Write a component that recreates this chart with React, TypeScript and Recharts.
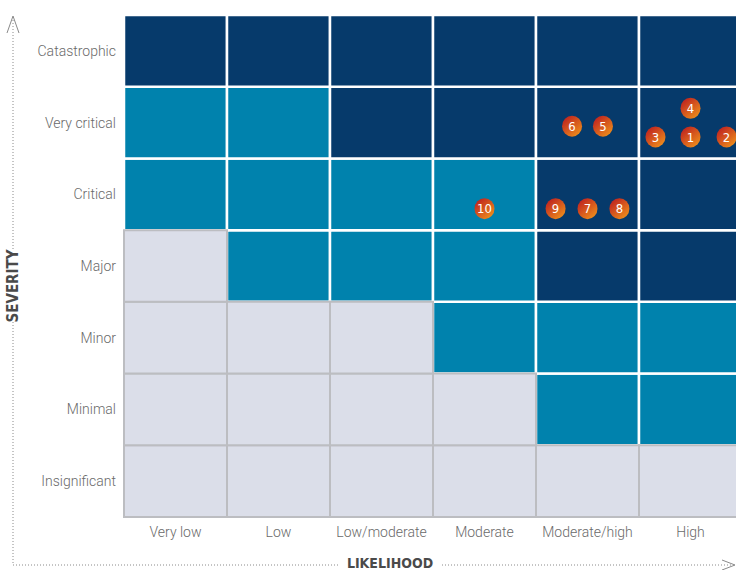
import { ScatterChart, Scatter, XAxis, YAxis, ReferenceArea } from "recharts";

// columns, left to right
const likelihood = ["Very low", "Low", "Low/moderate", "Moderate", "Moderate/high", "High"];
// rows, bottom to top
const severity = ["Insignificant", "Minimal", "Minor", "Major", "Critical", "Very critical", "Catastrophic"];

// zone of each cell, rows bottom to top: L = low, M = medium, H = high
const zones = [
  ["L", "L", "L", "L", "L", "L"],
  ["L", "L", "L", "L", "M", "M"],
  ["L", "L", "L", "M", "M", "M"],
  ["L", "M", "M", "M", "H", "H"],
  ["M", "M", "M", "M", "H", "H"],
  ["M", "M", "H", "H", "H", "H"],
  ["H", "H", "H", "H", "H", "H"],
];

// risks: id, likelihood position, severity position
const riskIds = [1, 2, 3, 4, 5, 6, 7, 8, 9, 10];
const riskLikelihood = [5.5, 5.85, 5.16, 5.5, 4.65, 4.35, 4.5, 4.81, 4.19, 3.5];
const riskSeverity = [5.3, 5.3, 5.3, 5.7, 5.45, 5.45, 4.3, 4.3, 4.3, 4.3];

const zoneFill: Record<string, string> = { L: "#dbdee9", M: "#0082ad", H: "#063a6b" };

const risks = riskIds.map((id, i) => ({ id, x: riskLikelihood[i], y: riskSeverity[i] }));

const cells = zones.flatMap((row, r) => row.map((z, c) => ({ r, c, z })));
// coloured cells first, grey ones on top so their grey borders show
const ordered = [...cells.filter((d) => d.z !== "L"), ...cells.filter((d) => d.z === "L")];

const labelFont = "Roboto, 'Liberation Sans', sans-serif";
const titleFont = "'Liberation Sans Narrow', 'DejaVu Sans Condensed', Roboto, sans-serif";

const RiskDot = (props: any) => {
  const { cx, cy, payload } = props;
  const gid = `riskgrad${payload.id}`;
  return (
    <g>
      <defs>
        <linearGradient id={gid} x1="0.15" y1="0.1" x2="0.85" y2="0.95">
          <stop offset="0%" stopColor="#bf2420" />
          <stop offset="100%" stopColor="#ee8f1b" />
        </linearGradient>
      </defs>
      <ellipse cx={cx} cy={cy} rx={10} ry={10.5} fill={`url(#${gid})`} />
      <text
        x={cx}
        y={cy}
        dy="0.36em"
        textAnchor="middle"
        fill="#fff"
        fontSize={13}
        fontFamily={titleFont}
      >
        {payload.id}
      </text>
    </g>
  );
};

export default function App() {
  return (
    <div style={{ position: "fixed", left: 0, top: 0, width: 736, height: 570, overflow: "hidden", background: "#fff" }}>
      <ScatterChart width={750} height={570} margin={{ top: 15, right: 8, bottom: 0, left: 0 }}>
        <XAxis
          type="number"
          dataKey="x"
          domain={[0, 6]}
          ticks={[0.5, 1.5, 2.5, 3.5, 4.5, 5.5]}
          tickFormatter={(v) => likelihood[Math.floor(v)]}
          axisLine={false}
          tickLine={false}
          tickMargin={4}
          height={53}
          interval={0}
          tick={{ fill: "#6a6a6a", fontSize: 14, fontFamily: labelFont, fontWeight: 300 }}
        />
        <YAxis
          type="number"
          dataKey="y"
          domain={[0, 7]}
          ticks={[0.5, 1.5, 2.5, 3.5, 4.5, 5.5, 6.5]}
          tickFormatter={(v) => severity[Math.floor(v)]}
          axisLine={false}
          tickLine={false}
          width={124}
          interval={0}
          tick={{ fill: "#6a6a6a", fontSize: 14, fontFamily: labelFont, fontWeight: 300 }}
        />
        {ordered.map((d) => (
          <ReferenceArea
            key={`${d.r}-${d.c}`}
            x1={d.c}
            x2={d.c + 1}
            y1={d.r}
            y2={d.r + 1}
            fill={zoneFill[d.z]}
            fillOpacity={1}
            stroke={d.z === "L" ? "#bcbdc1" : "#ffffff"}
            strokeWidth={d.z === "L" ? 2 : 2.5}
          />
        ))}
        <Scatter data={risks} shape={<RiskDot />} isAnimationActive={false} />
      </ScatterChart>
      <svg
        width={736}
        height={570}
        style={{ position: "absolute", left: 0, top: 0, pointerEvents: "none" }}
      >
        <g stroke="#8a8a8a" strokeWidth={1} strokeDasharray="1 2" fill="none">
          <line x1={13} y1={17} x2={13} y2={250} />
          <line x1={13} y1={322} x2={13} y2={565} />
          <line x1={13} y1={565} x2={338} y2={565} />
          <line x1={442} y1={565} x2={733} y2={565} />
        </g>
        <g stroke="#8a8a8a" strokeWidth={1} fill="none">
          <polyline points="7,33 13,16 19,33" />
          <polyline points="722,560 735,565 722,570" />
        </g>
        <text
          x={390}
          y={568}
          textAnchor="middle"
          fill="#4a4a4a"
          fontSize={14}
          fontWeight={700}
          fontFamily={titleFont}
        >
          LIKELIHOOD
        </text>
        <text
          transform="translate(18 286) rotate(-90)"
          textAnchor="middle"
          fill="#4a4a4a"
          fontSize={15}
          fontWeight={700}
          fontFamily={titleFont}
        >
          SEVERITY
        </text>
      </svg>
    </div>
  );
}
